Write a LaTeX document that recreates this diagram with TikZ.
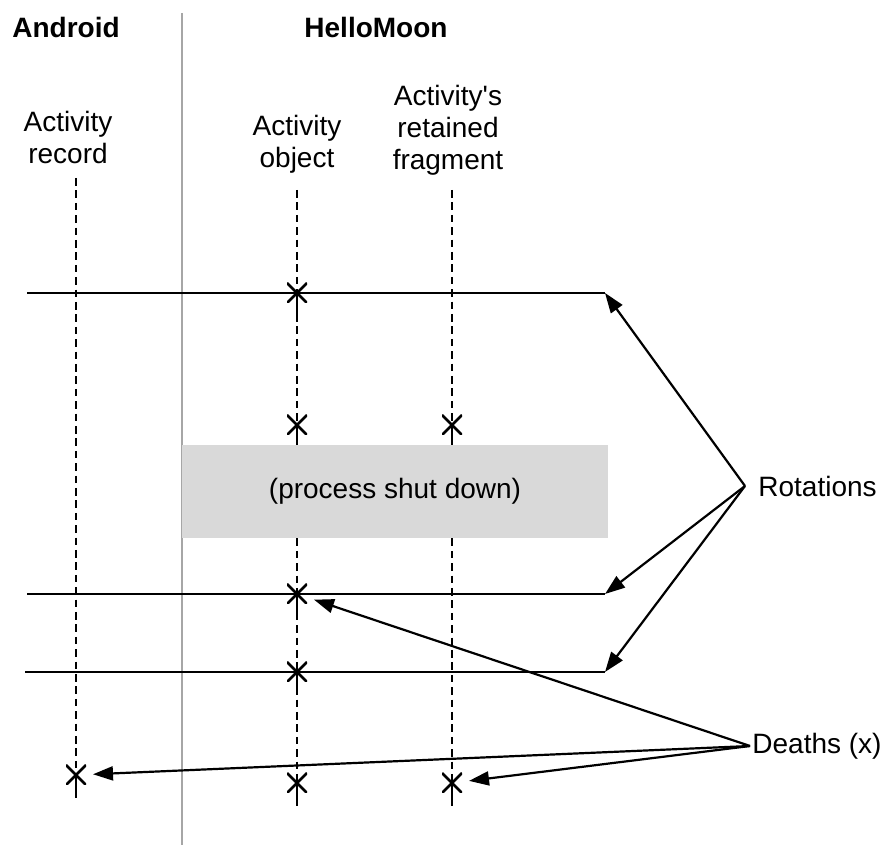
\documentclass[tikz,border=0pt]{standalone}
\usepackage{fontspec}
\setmainfont{Liberation Sans}
\usetikzlibrary{arrows.meta}

\tikzset{
  lbl/.style={font=\fontsize{14}{16}\selectfont, align=center, inner sep=0pt},
  hdr/.style={font=\fontsize{14}{16}\selectfont\bfseries, inner sep=0pt},
  lifeline/.style={line width=1.4pt, dash pattern=on 3.8pt off 2.4pt},
  stem/.style={line width=1.3pt},
  timeline/.style={line width=1.2pt},
  ptr/.style={line width=1.1pt, -{Triangle[length=10pt,width=7pt]}},
  deathx/.style={minimum size=10pt, inner sep=0pt, outer sep=3.5pt,
    path picture={\draw[line width=1.3pt]
      (path picture bounding box.north west) -- (path picture bounding box.south east)
      (path picture bounding box.north east) -- (path picture bounding box.south west);}}
}

\begin{document}
\begin{tikzpicture}[x=0.5pt,y=-0.5pt]
\useasboundingbox (0,0) rectangle (880,845);
\draw[line width=0.8pt, black!35] (182,13) -- (182,845);
\node[hdr] (android) at (66,27) {Android};
\node[hdr] (hellomoon) at (376,27) {HelloMoon};
\node[lbl] (reclabel) at (68,137) {Activity\\record};
\node[lbl] (objlabel) at (297,144) {Activity\\object};
\node[lbl] (fraglabel) at (448,130) {Activity\textquotesingle s\\retained\\fragment};
\node[fill=black!15, minimum width=213pt, minimum height=46.5pt, inner sep=0pt,
  font=\fontsize{14}{16}\selectfont] (shutdown) at (395,491.5) {(process shut down)};
\coordinate (rectop) at (76,178);
\coordinate (objtop) at (297,190);
\coordinate (fragtop) at (452,190);
\coordinate (h1w) at (27,293);
\coordinate (h2w) at (27,594);
\coordinate (h3w) at (25,672);
\coordinate (rot1) at (605,293);
\coordinate (rot2) at (605,594);
\coordinate (rot3) at (605,672);
\draw[timeline] (h1w) -- (rot1);
\draw[timeline] (h2w) -- (rot2);
\draw[timeline] (h3w) -- (rot3);
\node[deathx] (recx) at (76,775) {};
\node[deathx] (objx1) at (297,293) {};
\node[deathx] (objx2) at (297,425) {};
\node[deathx] (fragx1) at (452,425) {};
\node[deathx] (objx3) at (297,594) {};
\node[deathx] (objx4) at (297,672) {};
\node[deathx] (objx5) at (297,783) {};
\node[deathx] (fragx2) at (452,783) {};
\draw[lifeline] (rectop) -- (recx.center);
\draw[lifeline] (objtop) -- (objx2.center);
\draw[lifeline] (fragtop) -- (fragx1.center);
\draw[lifeline] (shutdown.south -| objx5) -- (objx5.center);
\draw[lifeline] (shutdown.south -| fragx2) -- (fragx2.center);
\draw[stem] (objx2.center) -- (objx2 |- shutdown.north);
\draw[stem] (fragx1.center) -- (fragx1 |- shutdown.north);
\foreach \n in {recx,objx1,objx3,objx4,objx5,fragx2}
  \draw[stem] (\n.center) -- ++(0,23);
\node[lbl, anchor=west, inner xsep=6.5pt] (rotations) at (745,486) {Rotations};
\node[lbl, anchor=west, inner xsep=1pt] (deaths) at (750,746) {Deaths (x)};
\draw[ptr] (rotations.west) -- (rot1);
\draw[ptr] (rotations.west) -- (rot2);
\draw[ptr] (rotations.west) -- (rot3);
\draw[ptr] (deaths.west) -- (objx3);
\draw[ptr] (deaths.west) -- (recx);
\draw[ptr] (deaths.west) -- (fragx2);
\end{tikzpicture}
\end{document}
